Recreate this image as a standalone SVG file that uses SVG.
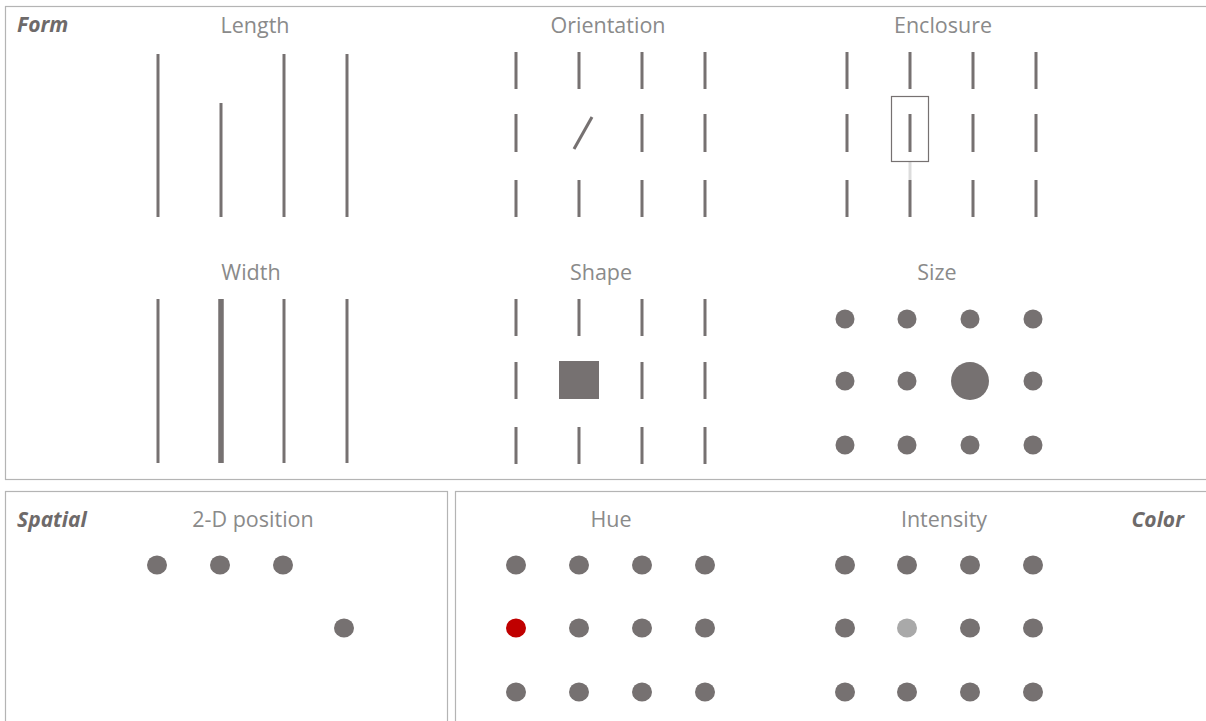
<svg xmlns="http://www.w3.org/2000/svg" width="1206" height="721" viewBox="0 0 1206 721">
<style>
.panel{fill:none;stroke:#b4b4b4;stroke-width:1.2}
.title{font-family:"Open Sans","Liberation Sans",sans-serif;font-size:21.5px;fill:#8a8a8a;text-anchor:middle}
.cat{font-family:"Open Sans","Liberation Sans",sans-serif;font-size:21px;font-weight:bold;font-style:italic;fill:#6e6a6a}
.ln{stroke:#767171;stroke-width:3;fill:none}
.dot{fill:#767171}
</style>
<rect width="1206" height="721" fill="#ffffff"/>
<g id="panels">
<rect class="panel" x="5.5" y="6.5" width="1210" height="473"/>
<rect class="panel" x="5.5" y="491.5" width="442" height="240"/>
<rect class="panel" x="455.5" y="491.5" width="760" height="240"/>
</g>
<g id="labels">
<text class="cat" x="17" y="32">Form</text>
<text class="cat" x="17" y="527">Spatial</text>
<text class="cat" x="1184" y="527" text-anchor="end">Color</text>
</g>
<g id="length">
<text class="title" x="255" y="33">Length</text>
<line class="ln" x1="158" y1="54" x2="158" y2="217"/>
<line class="ln" x1="221" y1="103" x2="221" y2="217"/>
<line class="ln" x1="284" y1="54" x2="284" y2="217"/>
<line class="ln" x1="347" y1="54" x2="347" y2="217"/>
</g>
<g id="orientation">
<text class="title" x="608" y="33">Orientation</text>
<path class="ln" d="M516 52V89M579 52V89M642 52V89M705 52V89M516 114V152M642 114V152M705 114V152M516 180V217M579 180V217M642 180V217M705 180V217"/>
<line class="ln" x1="574" y1="149" x2="592" y2="117"/>
</g>
<g id="enclosure">
<text class="title" x="943" y="33">Enclosure</text>
<path class="ln" d="M847 52V89M910 52V89M973 52V89M1036 52V89M847 114V152M910 114V152M973 114V152M1036 114V152M847 180V217M910 180V217M973 180V217M1036 180V217"/>
<line x1="910" y1="162" x2="910" y2="180" stroke="#dcdcdc" stroke-width="3"/>
<rect x="891.5" y="96.5" width="37" height="65" fill="none" stroke="#767171" stroke-width="1.2"/>
</g>
<g id="width">
<text class="title" x="251" y="280">Width</text>
<line class="ln" x1="158" y1="299" x2="158" y2="463"/>
<line class="ln" x1="221" y1="299" x2="221" y2="463" style="stroke-width:5.5"/>
<line class="ln" x1="284" y1="299" x2="284" y2="463"/>
<line class="ln" x1="347" y1="299" x2="347" y2="463"/>
</g>
<g id="shape">
<text class="title" x="601" y="280">Shape</text>
<path class="ln" d="M516 299V336M579 299V336M642 299V336M705 299V336M516 362V399M642 362V399M705 362V399M516 427V464M579 427V464M642 427V464M705 427V464"/>
<rect x="559" y="361" width="40" height="38" class="dot"/>
</g>
<g id="size">
<text class="title" x="937" y="280">Size</text>
<circle class="dot" cx="845" cy="319" r="9.5"/><circle class="dot" cx="907" cy="319" r="9.5"/><circle class="dot" cx="970" cy="319" r="9.5"/><circle class="dot" cx="1033" cy="319" r="9.5"/>
<circle class="dot" cx="845" cy="381" r="9.5"/><circle class="dot" cx="907" cy="381" r="9.5"/><circle class="dot" cx="970" cy="381" r="19"/><circle class="dot" cx="1033" cy="381" r="9.5"/>
<circle class="dot" cx="845" cy="445" r="9.5"/><circle class="dot" cx="907" cy="445" r="9.5"/><circle class="dot" cx="970" cy="445" r="9.5"/><circle class="dot" cx="1033" cy="445" r="9.5"/>
</g>
<g id="position">
<text class="title" x="253" y="527">2-D position</text>
<ellipse class="dot" cx="157" cy="565" rx="10" ry="9.5"/><ellipse class="dot" cx="220" cy="565" rx="10" ry="9.5"/><ellipse class="dot" cx="283" cy="565" rx="10" ry="9.5"/>
<ellipse class="dot" cx="344" cy="628" rx="10" ry="9.5"/>
</g>
<g id="hue">
<text class="title" x="611" y="527">Hue</text>
<ellipse class="dot" cx="516" cy="565" rx="10" ry="9.5"/><ellipse class="dot" cx="579" cy="565" rx="10" ry="9.5"/><ellipse class="dot" cx="642" cy="565" rx="10" ry="9.5"/><ellipse class="dot" cx="705" cy="565" rx="10" ry="9.5"/>
<ellipse cx="516" cy="628" rx="10" ry="9.5" fill="#c00000"/><ellipse class="dot" cx="579" cy="628" rx="10" ry="9.5"/><ellipse class="dot" cx="642" cy="628" rx="10" ry="9.5"/><ellipse class="dot" cx="705" cy="628" rx="10" ry="9.5"/>
<ellipse class="dot" cx="516" cy="692" rx="10" ry="9.5"/><ellipse class="dot" cx="579" cy="692" rx="10" ry="9.5"/><ellipse class="dot" cx="642" cy="692" rx="10" ry="9.5"/><ellipse class="dot" cx="705" cy="692" rx="10" ry="9.5"/>
</g>
<g id="intensity">
<text class="title" x="944" y="527">Intensity</text>
<ellipse class="dot" cx="845" cy="565" rx="10" ry="9.5"/><ellipse class="dot" cx="907" cy="565" rx="10" ry="9.5"/><ellipse class="dot" cx="970" cy="565" rx="10" ry="9.5"/><ellipse class="dot" cx="1033" cy="565" rx="10" ry="9.5"/>
<ellipse class="dot" cx="845" cy="628" rx="10" ry="9.5"/><ellipse cx="907" cy="628" rx="10" ry="9.5" fill="#a9a9a9"/><ellipse class="dot" cx="970" cy="628" rx="10" ry="9.5"/><ellipse class="dot" cx="1033" cy="628" rx="10" ry="9.5"/>
<ellipse class="dot" cx="845" cy="692" rx="10" ry="9.5"/><ellipse class="dot" cx="907" cy="692" rx="10" ry="9.5"/><ellipse class="dot" cx="970" cy="692" rx="10" ry="9.5"/><ellipse class="dot" cx="1033" cy="692" rx="10" ry="9.5"/>
</g>
</svg>
